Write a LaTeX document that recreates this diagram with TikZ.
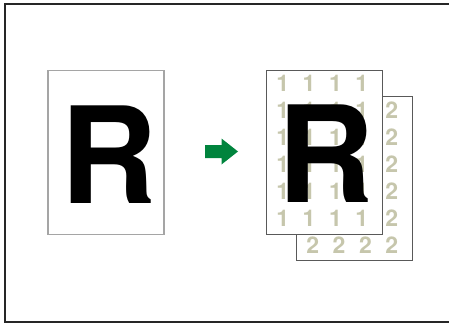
\documentclass[tikz,border=0pt]{standalone}
\usepackage{fontspec}
\usepackage{tikz}
\usetikzlibrary{positioning}
\newfontfamily\herosfont{TeX Gyre Heros}
\definecolor{copygreen}{RGB}{0,132,61}
\definecolor{markgray}{RGB}{198,198,172}
\definecolor{edgegray}{RGB}{165,165,165}
\tikzset{
    pagebox/.style={draw, fill=white, minimum width=116pt,
        minimum height=164pt, inner sep=0pt},
    bigletter/.style={font=\herosfont\bfseries\fontsize{134}{134}\selectfont,
        inner sep=0pt},
    pagemark/.style={font=\herosfont\bfseries\fontsize{23}{23}\selectfont,
        text=markgray, inner sep=0pt}
}

\begin{document}
\begin{tikzpicture}[x=1pt, y=1pt]
        \useasboundingbox (0,0) rectangle (449,325);
        \draw[line width=2pt, black!85] (5,3) rectangle (470,321);

        % original page
        \node[pagebox, draw=edgegray, line width=1.2pt] (original)
            at (106,172.5) {};
        \node[bigletter] (origletter) at (108.5,170) {R};

        % block arrow
        \coordinate (arrow) at (221.5,173.5);
        \fill[copygreen, shift={(arrow)}] (-16.5,-6.5) -- (0,-6.5) -- (0,-13)
            -- (16.5,0) -- (0,13) -- (0,6.5) -- (-16.5,6.5) -- cycle;

        % second sheet, behind
        \node[pagebox, draw=black!65] (back) at (354,147) {};
        \begin{scope}[shift={(back.north west)}]
            \foreach \c in {0,...,3}
                \foreach \r in {0,...,5}
                    \node[pagemark] (two-\c-\r) at (17+26.3*\c,-14-27*\r) {2};
        \end{scope}

        % first sheet
        \node[pagebox, draw=black!65] (front) at (324,173) {};
        \begin{scope}[shift={(front.north west)}]
            \foreach \c in {0,...,3}
                \foreach \r in {0,...,5}
                    \node[pagemark] (one-\c-\r) at (17+26.3*\c,-14-27*\r) {1};
        \end{scope}
        \node[bigletter] (copyletter) at (326,171) {R};
    \end{tikzpicture}
\end{document}
